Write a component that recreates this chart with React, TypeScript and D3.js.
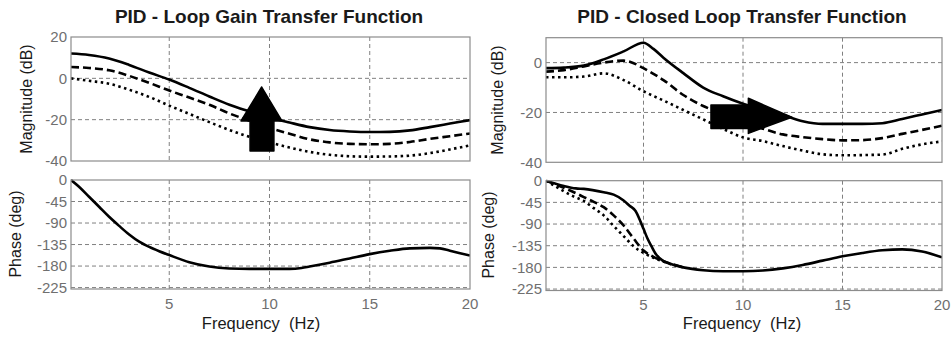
import { useEffect, useRef } from "react";
import * as d3 from "d3";

// Frequency ticks shared by all panels
const freqTicks = [5, 10, 15, 20];
const leftMagTicks = [20, 0, -20, -40];
const rightMagTicks = [0, -20, -40];
const phaseTicks = [0, -45, -90, -135, -180, -225];

// Loop gain magnitude (dB)
const loopMagFreq = [0.1, 1, 2, 3, 4, 5, 6, 7, 8, 9, 10, 11, 12, 13, 14, 15, 16, 17, 18, 19, 20];
const loopMagSolid = [12, 11.3, 9.6, 6.5, 2.8, -0.6, -4.6, -8.8, -12.8, -16, -19, -21.4, -23.6, -25, -25.7, -26, -25.9, -25.2, -23.6, -21.9, -20.2];
const loopMagDashed = [5.5, 5, 3.9, 1.2, -2.2, -5.9, -9.3, -12.8, -17, -20.5, -24, -26.8, -29.5, -31, -31.7, -31.9, -31.7, -30.8, -29.3, -28, -26.7];
const loopMagDotted = [0, -1.2, -2.6, -5.5, -9, -13.2, -17.2, -21.2, -25, -28.3, -31, -33.5, -35.6, -37, -37.7, -37.9, -37.8, -37.4, -36.2, -34.4, -32.4];

// Loop gain phase (deg)
const loopPhaseFreq = [0.1, 0.5, 1, 1.5, 2, 2.5, 3, 3.5, 4, 4.5, 5, 6, 7, 8, 9, 10, 11, 11.6, 12, 13, 14, 15, 16, 17, 18, 18.5, 19, 20];
const loopPhase = [0, -14, -35, -56, -77, -96, -114, -129, -140, -149, -157, -172, -181, -185, -186, -186, -186, -184, -181, -173, -164, -155, -148, -143, -142, -143, -148, -158];

// Closed loop magnitude (dB)
const closedMagFreq = [0.1, 1, 2, 3, 4, 5, 5.5, 6, 7, 8, 9, 10, 11, 12, 13, 14, 15, 16, 17, 18, 19, 20];
const closedMagSolid = [-2.2, -2, -1.2, 1.3, 4.5, 8, 5.5, 2, -4.2, -10, -13.5, -16.5, -19, -21, -23.5, -24.6, -24.6, -24.6, -24.3, -22.6, -20.8, -19];
const closedMagDashed = [-3.6, -3, -1.5, 0, 0.8, -2.2, -4.5, -7, -13, -17.4, -20.5, -23.5, -26.5, -28.8, -29.9, -30.7, -31.2, -31.1, -30.3, -28.6, -27, -25.3];
const closedMagDotted = [-5.9, -5.9, -5.6, -4.3, -7, -11.5, -13.4, -15.2, -19, -22.8, -26.6, -30, -31.5, -33.5, -35.3, -36.8, -37.2, -37.1, -36.9, -34.6, -32.8, -31.6];

// Closed loop phase (deg)
const closedPhaseFreq = [0.1, 1, 1.6, 2, 3, 3.5, 4, 4.3, 4.6, 4.85, 5, 5.2, 5.4, 5.6, 6, 6.3, 7, 8, 9, 10, 11, 12, 13, 14, 15, 16, 17, 18, 19, 20];
const closedPhaseSolid = [0, -11, -16, -17, -24, -29, -41, -52, -63, -85, -100, -120, -136, -151, -167, -172, -180, -186, -188, -188, -186.5, -182, -175, -166, -157, -150, -144.5, -142.5, -147, -159];
const closedLagFreq = [0.1, 1, 1.5, 2, 2.5, 3, 3.5, 4, 4.5, 5, 5.5, 6, 6.5, 7];
const closedPhaseDashed = [0, -15, -24, -34, -44, -55, -72, -93, -120, -145, -158, -167, -174, -180];
const closedPhaseDotted = [0, -22, -33, -42, -57, -72, -94, -115, -136, -150, -160, -168, -175, -180];

// Annotation arrows in data units [freq, dB]
const upArrow: [number, number][] = [
  [9.61, -4.2], [10.62, -20.6], [10.22, -20.6], [10.22, -35.2],
  [9.03, -35.2], [9.03, -20.6], [8.58, -20.6],
];
const rightArrow: [number, number][] = [
  [8.39, -17], [10.27, -17], [10.27, -14.3], [12.45, -21.9],
  [10.27, -28.4], [10.27, -26.4], [8.39, -26.4],
];

interface Series {
  freq: number[];
  values: number[];
  dash: string | null;
}

interface PlotConfig {
  id: string;
  xRange: [number, number];
  yDomain: [number, number];
  yRange: [number, number];
  yTicks: number[];
  series: Series[];
  showXTicks: boolean;
  arrow?: [number, number][];
}

const FONT = "'Liberation Sans', Arial, sans-serif";
const TICK_COLOR = "#6f6f6f";
const FRAME_COLOR = "#8c8c8c";
const GRID_COLOR = "#808080";

function drawPlot(
  svg: d3.Selection<SVGSVGElement, unknown, null, undefined>,
  cfg: PlotConfig
) {
  const x = d3.scaleLinear().domain([0.1, 20]).range(cfg.xRange);
  const y = d3.scaleLinear().domain(cfg.yDomain).range(cfg.yRange);
  const [x0, x1] = cfg.xRange;
  const yTop = cfg.yRange[1];
  const yBot = cfg.yRange[0];

  const g = svg.append("g");

  // background
  g.append("rect")
    .attr("x", x0)
    .attr("y", yTop)
    .attr("width", x1 - x0)
    .attr("height", yBot - yTop)
    .attr("fill", "#fff");

  // grid
  freqTicks
    .filter((t) => x(t) < x1 - 2)
    .forEach((t) => {
      g.append("line")
        .attr("x1", x(t))
        .attr("x2", x(t))
        .attr("y1", yTop)
        .attr("y2", yBot)
        .attr("stroke", GRID_COLOR)
        .attr("stroke-width", 1)
        .attr("stroke-dasharray", "4,3");
    });
  cfg.yTicks
    .filter((t) => y(t) > yTop + 2 && y(t) < yBot - 0.5)
    .forEach((t) => {
      g.append("line")
        .attr("x1", x0)
        .attr("x2", x1)
        .attr("y1", y(t))
        .attr("y2", y(t))
        .attr("stroke", GRID_COLOR)
        .attr("stroke-width", 1)
        .attr("stroke-dasharray", "4,3");
    });

  // clip for curves
  svg
    .append("clipPath")
    .attr("id", `clip-${cfg.id}`)
    .append("rect")
    .attr("x", x0)
    .attr("y", yTop - 1)
    .attr("width", x1 - x0)
    .attr("height", yBot - yTop + 2);

  const line = d3
    .line<[number, number]>()
    .x((d) => x(d[0]))
    .y((d) => y(d[1]))
    .curve(d3.curveMonotoneX);

  cfg.series.forEach((s) => {
    const pts = s.freq.map((f, i) => [f, s.values[i]] as [number, number]);
    const p = g
      .append("path")
      .datum(pts)
      .attr("clip-path", `url(#clip-${cfg.id})`)
      .attr("fill", "none")
      .attr("stroke", "#000")
      .attr("stroke-width", 2.6)
      .attr("d", line);
    if (s.dash) p.attr("stroke-dasharray", s.dash);
  });

  if (cfg.arrow) {
    g.append("path")
      .attr(
        "d",
        d3.line<[number, number]>().x((d) => x(d[0])).y((d) => y(d[1]))(cfg.arrow) + "Z"
      )
      .attr("fill", "#000")
      .attr("stroke", "#000")
      .attr("stroke-width", 1.5)
      .attr("stroke-linejoin", "round");
  }

  // frame
  g.append("rect")
    .attr("x", x0)
    .attr("y", yTop)
    .attr("width", x1 - x0)
    .attr("height", yBot - yTop)
    .attr("fill", "none")
    .attr("stroke", FRAME_COLOR)
    .attr("stroke-width", 1.2);

  // y tick labels
  cfg.yTicks.forEach((t) => {
    g.append("text")
      .attr("x", x0 - 4)
      .attr("y", y(t))
      .attr("dy", "0.36em")
      .attr("text-anchor", "end")
      .attr("fill", TICK_COLOR)
      .style("font-family", FONT)
      .style("font-size", "15px")
      .text(String(t));
  });

  if (cfg.showXTicks) {
    freqTicks.forEach((t) => {
      g.append("text")
        .attr("x", x(t))
        .attr("y", yBot + 19.5)
        .attr("text-anchor", "middle")
        .attr("fill", TICK_COLOR)
        .style("font-family", FONT)
        .style("font-size", "15px")
        .text(String(t));
    });
  }
}

function addText(
  svg: d3.Selection<SVGSVGElement, unknown, null, undefined>,
  label: string,
  cx: number,
  cy: number,
  size: number,
  weight: string,
  rotate = false
) {
  svg
    .append("text")
    .attr("transform", `translate(${cx},${cy})${rotate ? " rotate(-90)" : ""}`)
    .attr("text-anchor", "middle")
    .attr("fill", "#1a1a1a")
    .style("font-family", FONT)
    .style("font-size", `${size}px`)
    .style("font-weight", weight)
    .style("white-space", "pre")
    .text(label);
}

export default function App() {
  const svgRef = useRef<SVGSVGElement>(null);

  useEffect(() => {
    if (!svgRef.current) return;
    const svg = d3.select(svgRef.current);
    svg.selectAll("*").remove();

    // Left column: loop gain
    drawPlot(svg, {
      id: "lm",
      xRange: [71, 470],
      yDomain: [-40, 20],
      yRange: [161, 37],
      yTicks: leftMagTicks,
      showXTicks: false,
      arrow: upArrow,
      series: [
        { freq: loopMagFreq, values: loopMagSolid, dash: null },
        { freq: loopMagFreq, values: loopMagDashed, dash: "8,4" },
        { freq: loopMagFreq, values: loopMagDotted, dash: "2.5,3.5" },
      ],
    });
    drawPlot(svg, {
      id: "lp",
      xRange: [71, 470],
      yDomain: [-228, 0],
      yRange: [289, 180],
      yTicks: phaseTicks,
      showXTicks: true,
      series: [{ freq: loopPhaseFreq, values: loopPhase, dash: null }],
    });

    // Right column: closed loop
    drawPlot(svg, {
      id: "rm",
      xRange: [546, 942],
      yDomain: [-40, 10],
      yRange: [162.3, 37.7],
      yTicks: rightMagTicks,
      showXTicks: false,
      arrow: rightArrow,
      series: [
        { freq: closedMagFreq, values: closedMagSolid, dash: null },
        { freq: closedMagFreq, values: closedMagDashed, dash: "8,4" },
        { freq: closedMagFreq, values: closedMagDotted, dash: "2.5,3.5" },
      ],
    });
    drawPlot(svg, {
      id: "rp",
      xRange: [546, 942],
      yDomain: [-228, 0],
      yRange: [290.5, 180.7],
      yTicks: phaseTicks,
      showXTicks: true,
      series: [
        { freq: closedLagFreq, values: closedPhaseDotted, dash: "2.5,3.5" },
        { freq: closedLagFreq, values: closedPhaseDashed, dash: "8,4" },
        { freq: closedPhaseFreq, values: closedPhaseSolid, dash: null },
      ],
    });

    // Titles and axis labels
    addText(svg, "PID - Loop Gain Transfer Function", 269, 23, 19, "bold");
    addText(svg, "PID - Closed Loop Transfer Function", 742, 23, 19, "bold");
    addText(svg, "Magnitude (dB)", 32, 99, 16, "normal", true);
    addText(svg, "Magnitude (dB)", 503, 100, 16, "normal", true);
    addText(svg, "Phase (deg)", 21, 234, 16, "normal", true);
    addText(svg, "Phase (deg)", 494, 235, 16, "normal", true);
    addText(svg, "Frequency  (Hz)", 261, 329, 16.5, "normal");
    addText(svg, "Frequency  (Hz)", 742, 329, 16.5, "normal");
  }, []);

  return (
    <svg
      ref={svgRef}
      width={951}
      height={338}
      style={{ position: "fixed", left: 0, top: 0, background: "#fff", display: "block" }}
    />
  );
}
